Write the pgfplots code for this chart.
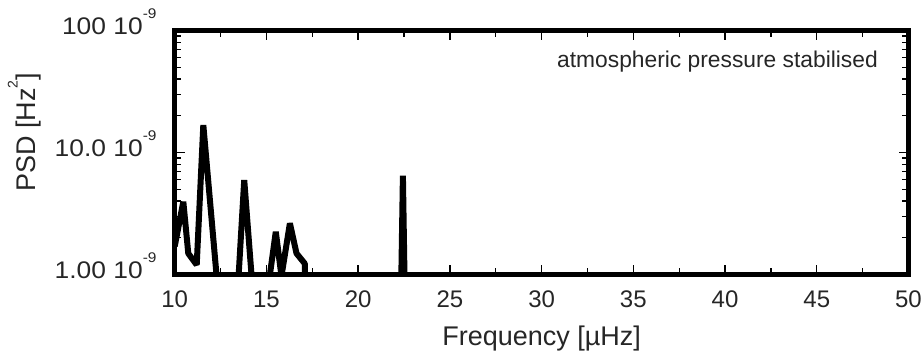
\documentclass[border=0pt]{standalone}
\usepackage{fontspec}
\setmainfont{Liberation Sans}
\usepackage{pgfplots}
\pgfplotsset{compat=1.18}
\newcommand{\ssup}[1]{\raisebox{0.68em}{\fontsize{14}{14}\selectfont #1}}
\newcommand{\ylab}[1]{\scalebox{1.1}[1]{#1 10\ssup{-9}}}
\begin{document}
\begin{tikzpicture}
\begin{axis}[
  scale only axis, width=733.8pt, height=244pt,
  xmin=10, xmax=50, ymin=1e-9, ymax=1e-7, ymode=log,
  xtick={10,15,...,50}, minor x tick num=1,
  ytick={1e-9,1e-8,1e-7},
  yticklabels={\ylab{1.00}, \ylab{10.0}, \ylab{100}},
  minor ytick={2e-9,3e-9,4e-9,5e-9,6e-9,7e-9,8e-9,9e-9,2e-8,3e-8,4e-8,5e-8,6e-8,7e-8,8e-8,9e-8},
  tick align=inside,
  major tick length=10pt, minor tick length=6.5pt,
  tick style={black, line width=1.3pt},
  axis line style={line width=4.8pt},
  /pgf/number format/assume math mode=true,
  tick label style={font=\fontsize{24}{28}\selectfont, text=black!85, inner sep=0pt},
  xticklabel style={anchor=base, yshift=-32.5pt},
  yticklabel style={anchor=base east, xshift=-18pt, yshift=-4.3pt},
  xlabel={Frequency [µHz]},
  ylabel={PSD [Hz\ssup{2}]},
  label style={font=\fontsize{27}{32}\selectfont, text=black!85, inner sep=0pt},
  xlabel style={at={(axis description cs:0.5,-0.2889)}, anchor=base},
  ylabel style={at={(axis description cs:-0.18902,0.582)}, anchor=base},
]
\addplot[black, line width=6pt, line join=bevel, no marks] coordinates {
(10.0,1.7e-9) (10.47,3.95e-9) (10.74,1.49e-9) (11.2,1.2e-9) (11.56,16.8e-9)
(12.29,0.95e-9) (12.6,1e-12) (13.07,1e-12) (13.45,0.8e-9) (13.79,5.95e-9)
(14.19,0.98e-9) (14.5,1e-12) (14.9,1e-12) (15.15,0.9e-9) (15.51,2.24e-9)
(15.82,0.97e-9) (16.28,2.63e-9) (16.64,1.49e-9) (17.09,1.23e-9) (17.2,1e-11)
(22.25,1e-10) (22.44,6.45e-9) (22.63,1e-10) (50,1e-14)
};
\node[anchor=base east, font=\fontsize{22.8}{26}\selectfont, text=black!85, inner sep=0pt,
  xshift=-30.5pt, yshift=-36.5pt] at (rel axis cs:1,1) {atmospheric pressure stabilised};
\end{axis}
\pgfresetboundingbox
\path[use as bounding box] ([shift={(-174.7pt,-81.5pt)}]current axis.south west) rectangle ([shift={(14.5pt,30.5pt)}]current axis.north east);
\end{tikzpicture}
\end{document}
